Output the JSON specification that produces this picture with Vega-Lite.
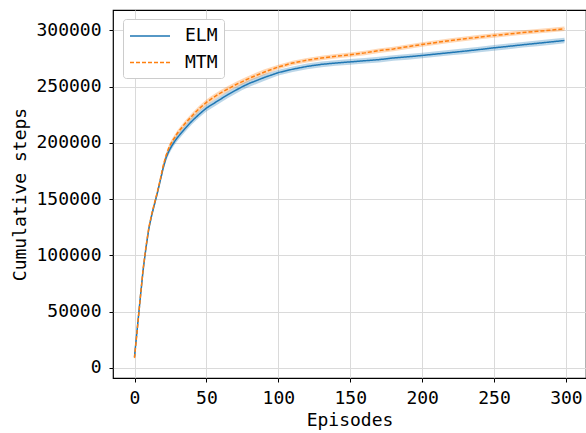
{
  "$schema": "https://vega.github.io/schema/vega-lite/v6.json",
  "width": 473,
  "height": 368,
  "autosize": {"type": "none"},
  "padding": {"left": 113, "top": 10, "right": 0, "bottom": 55},
  "background": "white",
  "config": {
    "font": "DejaVu Sans Mono",
    "view": {"stroke": "black", "strokeWidth": 1.2},
    "axis": {
      "labelFont": "DejaVu Sans Mono",
      "titleFont": "DejaVu Sans Mono",
      "labelFontSize": 18,
      "titleFontSize": 18,
      "titleFontWeight": "normal",
      "labelColor": "black",
      "titleColor": "black",
      "gridColor": "#dadada",
      "gridWidth": 1,
      "tickColor": "black",
      "tickSize": 4,
      "domain": false
    },
    "legend": {
      "orient": "none",
      "legendX": 10,
      "legendY": 9,
      "symbolType": "M-1,0H3",
      "symbolSize": 400,
      "symbolStrokeWidth": 1.5,
      "symbolOpacity": 1,
      "labelFont": "DejaVu Sans Mono",
      "labelFontSize": 18,
      "labelColor": "black",
      "fillColor": "white",
      "strokeColor": "#cccccc",
      "cornerRadius": 3,
      "padding": 6,
      "rowPadding": 6.5,
      "labelOffset": 34
    }
  },
  "data": {
    "values": [
      {"e":0,"m":"ELM","v":10000,"lo":7500,"hi":12500},
      {"e":2,"m":"ELM","v":36000,"lo":33500,"hi":38500},
      {"e":4,"m":"ELM","v":62000,"lo":59500,"hi":64500},
      {"e":6,"m":"ELM","v":87000,"lo":84500,"hi":89500},
      {"e":8,"m":"ELM","v":107000,"lo":104500,"hi":109500},
      {"e":10,"m":"ELM","v":124000,"lo":121500,"hi":126500},
      {"e":12,"m":"ELM","v":136000,"lo":133500,"hi":138500},
      {"e":14,"m":"ELM","v":146000,"lo":143500,"hi":148500},
      {"e":16,"m":"ELM","v":156000,"lo":153500,"hi":158500},
      {"e":18,"m":"ELM","v":167000,"lo":164500,"hi":169500},
      {"e":20,"m":"ELM","v":178000,"lo":175000,"hi":181000},
      {"e":22,"m":"ELM","v":187000,"lo":184000,"hi":190000},
      {"e":24,"m":"ELM","v":193000,"lo":190000,"hi":196000},
      {"e":26,"m":"ELM","v":197500,"lo":194500,"hi":200500},
      {"e":28,"m":"ELM","v":201500,"lo":198500,"hi":204500},
      {"e":30,"m":"ELM","v":205000,"lo":202000,"hi":208000},
      {"e":35,"m":"ELM","v":212500,"lo":209500,"hi":215500},
      {"e":40,"m":"ELM","v":219500,"lo":216500,"hi":222500},
      {"e":45,"m":"ELM","v":225500,"lo":222500,"hi":228500},
      {"e":50,"m":"ELM","v":231000,"lo":228000,"hi":234000},
      {"e":55,"m":"ELM","v":235000,"lo":232000,"hi":238000},
      {"e":60,"m":"ELM","v":239000,"lo":236000,"hi":242000},
      {"e":65,"m":"ELM","v":243000,"lo":240000,"hi":246000},
      {"e":70,"m":"ELM","v":246500,"lo":243500,"hi":249500},
      {"e":75,"m":"ELM","v":250000,"lo":247000,"hi":253000},
      {"e":80,"m":"ELM","v":253000,"lo":250000,"hi":256000},
      {"e":90,"m":"ELM","v":258000,"lo":255000,"hi":261000},
      {"e":100,"m":"ELM","v":262500,"lo":260000,"hi":265000},
      {"e":110,"m":"ELM","v":265500,"lo":263000,"hi":268000},
      {"e":120,"m":"ELM","v":268000,"lo":265500,"hi":270500},
      {"e":130,"m":"ELM","v":269800,"lo":267300,"hi":272300},
      {"e":140,"m":"ELM","v":271000,"lo":268500,"hi":273500},
      {"e":150,"m":"ELM","v":272000,"lo":269500,"hi":274500},
      {"e":160,"m":"ELM","v":273000,"lo":270500,"hi":275500},
      {"e":170,"m":"ELM","v":274000,"lo":271500,"hi":276500},
      {"e":180,"m":"ELM","v":275500,"lo":273000,"hi":278000},
      {"e":190,"m":"ELM","v":276500,"lo":274000,"hi":279000},
      {"e":200,"m":"ELM","v":277700,"lo":275200,"hi":280200},
      {"e":210,"m":"ELM","v":279000,"lo":276500,"hi":281500},
      {"e":220,"m":"ELM","v":280300,"lo":277800,"hi":282800},
      {"e":230,"m":"ELM","v":281600,"lo":279100,"hi":284100},
      {"e":240,"m":"ELM","v":283000,"lo":280500,"hi":285500},
      {"e":250,"m":"ELM","v":284500,"lo":282000,"hi":287000},
      {"e":260,"m":"ELM","v":285800,"lo":283300,"hi":288300},
      {"e":270,"m":"ELM","v":287200,"lo":284700,"hi":289700},
      {"e":280,"m":"ELM","v":288500,"lo":286000,"hi":291000},
      {"e":290,"m":"ELM","v":289800,"lo":287300,"hi":292300},
      {"e":299,"m":"ELM","v":291000,"lo":288500,"hi":293500},
      {"e":0,"m":"MTM","v":9000,"lo":7000,"hi":11000},
      {"e":2,"m":"MTM","v":35000,"lo":33000,"hi":37000},
      {"e":4,"m":"MTM","v":62000,"lo":60000,"hi":64000},
      {"e":6,"m":"MTM","v":88000,"lo":86000,"hi":90000},
      {"e":8,"m":"MTM","v":108000,"lo":106000,"hi":110000},
      {"e":10,"m":"MTM","v":125000,"lo":123000,"hi":127000},
      {"e":12,"m":"MTM","v":137000,"lo":135000,"hi":139000},
      {"e":14,"m":"MTM","v":147000,"lo":145000,"hi":149000},
      {"e":16,"m":"MTM","v":157000,"lo":155000,"hi":159000},
      {"e":18,"m":"MTM","v":168000,"lo":166000,"hi":170000},
      {"e":20,"m":"MTM","v":180000,"lo":177500,"hi":182500},
      {"e":22,"m":"MTM","v":189000,"lo":186500,"hi":191500},
      {"e":24,"m":"MTM","v":196000,"lo":193500,"hi":198500},
      {"e":26,"m":"MTM","v":201000,"lo":198500,"hi":203500},
      {"e":28,"m":"MTM","v":205000,"lo":202500,"hi":207500},
      {"e":30,"m":"MTM","v":209000,"lo":206500,"hi":211500},
      {"e":35,"m":"MTM","v":217000,"lo":214500,"hi":219500},
      {"e":40,"m":"MTM","v":224000,"lo":221500,"hi":226500},
      {"e":45,"m":"MTM","v":230500,"lo":228000,"hi":233000},
      {"e":50,"m":"MTM","v":236000,"lo":233500,"hi":238500},
      {"e":55,"m":"MTM","v":240500,"lo":238000,"hi":243000},
      {"e":60,"m":"MTM","v":244500,"lo":242000,"hi":247000},
      {"e":65,"m":"MTM","v":248000,"lo":245500,"hi":250500},
      {"e":70,"m":"MTM","v":251500,"lo":249000,"hi":254000},
      {"e":75,"m":"MTM","v":254500,"lo":252000,"hi":257000},
      {"e":80,"m":"MTM","v":257500,"lo":255000,"hi":260000},
      {"e":90,"m":"MTM","v":262800,"lo":260300,"hi":265300},
      {"e":100,"m":"MTM","v":267500,"lo":265500,"hi":269500},
      {"e":110,"m":"MTM","v":271000,"lo":269000,"hi":273000},
      {"e":120,"m":"MTM","v":273500,"lo":271500,"hi":275500},
      {"e":130,"m":"MTM","v":275500,"lo":273500,"hi":277500},
      {"e":140,"m":"MTM","v":277000,"lo":275000,"hi":279000},
      {"e":150,"m":"MTM","v":278300,"lo":276300,"hi":280300},
      {"e":160,"m":"MTM","v":280000,"lo":278000,"hi":282000},
      {"e":170,"m":"MTM","v":282000,"lo":280000,"hi":284000},
      {"e":180,"m":"MTM","v":283500,"lo":281500,"hi":285500},
      {"e":190,"m":"MTM","v":285500,"lo":283500,"hi":287500},
      {"e":200,"m":"MTM","v":287500,"lo":285500,"hi":289500},
      {"e":210,"m":"MTM","v":289300,"lo":287300,"hi":291300},
      {"e":220,"m":"MTM","v":291000,"lo":289000,"hi":293000},
      {"e":230,"m":"MTM","v":292600,"lo":290600,"hi":294600},
      {"e":240,"m":"MTM","v":294000,"lo":292000,"hi":296000},
      {"e":250,"m":"MTM","v":295500,"lo":293500,"hi":297500},
      {"e":260,"m":"MTM","v":296700,"lo":294700,"hi":298700},
      {"e":270,"m":"MTM","v":298000,"lo":296000,"hi":300000},
      {"e":280,"m":"MTM","v":299200,"lo":297200,"hi":301200},
      {"e":290,"m":"MTM","v":300300,"lo":298300,"hi":302300},
      {"e":299,"m":"MTM","v":301400,"lo":299400,"hi":303400}
    ]
  },
  "encoding": {
    "x": {
      "field": "e",
      "type": "quantitative",
      "scale": {"domain": [-14.95, 313.95], "nice": false, "zero": false},
      "axis": {"title": "Episodes", "values": [0, 50, 100, 150, 200, 250, 300], "labelPadding": 7, "titlePadding": 4}
    },
    "color": {
      "field": "m",
      "type": "nominal",
      "title": null,
      "scale": {"domain": ["ELM", "MTM"], "range": ["#1f77b4", "#ff7f0e"]}
    }
  },
  "layer": [
    {
      "mark": {"type": "area", "opacity": 0.3},
      "encoding": {
        "y": {
          "field": "lo",
          "type": "quantitative",
          "scale": {"domain": [-8900, 318100], "nice": false, "zero": false},
          "axis": {"title": "Cumulative steps", "values": [0, 50000, 100000, 150000, 200000, 250000, 300000], "format": "d", "labelPadding": 8, "titlePadding": 6}
        },
        "y2": {"field": "hi"}
      }
    },
    {
      "mark": {"type": "line", "strokeWidth": 1.5},
      "encoding": {
        "y": {"field": "v", "type": "quantitative"},
        "strokeDash": {
          "field": "m",
          "type": "nominal",
          "title": null,
          "scale": {"domain": ["ELM", "MTM"], "range": [[1, 0], [4, 2]]}
        }
      }
    }
  ]
}
